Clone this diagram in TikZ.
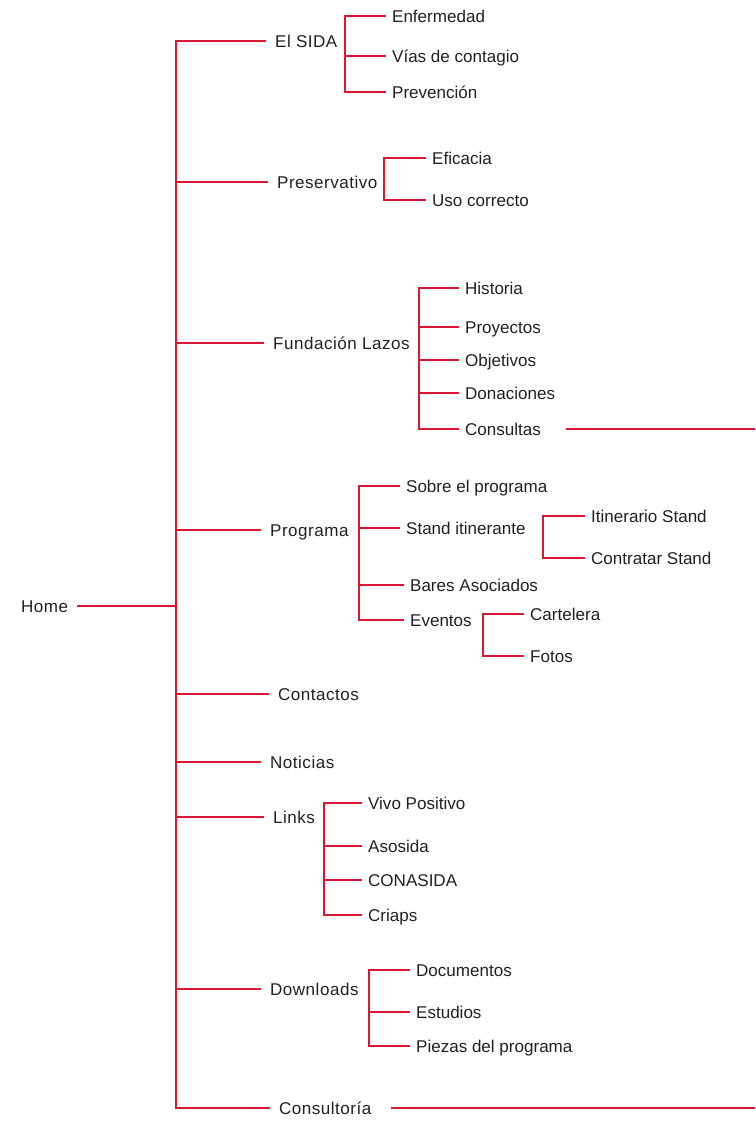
\documentclass[tikz,border=0pt]{standalone}
\usepackage{fontspec}
\setmainfont{Liberation Sans}
\newfontfamily\spacedfont[LetterSpace=3]{Liberation Sans}
\usepackage{tikz}
\definecolor{mapred}{RGB}{218,24,52}
\definecolor{maptext}{RGB}{35,31,32}
\tikzset{
  mainitem/.style={anchor=west, inner xsep=5pt, inner ysep=1pt,
    text height=1.6ex, text depth=.3ex, text=maptext,
    font=\spacedfont\fontsize{9.7}{11}\selectfont},
  subitem/.style={anchor=west, inner xsep=3.3pt, inner ysep=1pt,
    text height=1.6ex, text depth=.3ex, text=maptext,
    font=\fontsize{9.7}{11}\selectfont},
  link/.style={draw=mapred, line width=0.75pt}
}
\begin{document}
\begin{tikzpicture}[x=0.02cm, y=-0.02cm]
  \useasboundingbox (0,0) rectangle (755,1142);
  \coordinate (trunk) at (176,0);
  \coordinate (rim) at (755,0);

  % Root
  \node[mainitem] (home) at (12,606) {Home};

  % Level 1
  \node[mainitem] (sida) at (266,41) {El SIDA};
  \node[mainitem] (pres) at (268,182) {Preservativo};
  \node[mainitem] (fund) at (264,343) {Fundación Lazos};
  \node[mainitem] (prog) at (261,530) {Programa};
  \node[mainitem] (cont) at (269,694) {Contactos};
  \node[mainitem] (noti) at (261,762) {Noticias};
  \node[mainitem] (links) at (264,817) {Links};
  \node[mainitem] (down) at (261,989) {Downloads};
  \node[mainitem] (cons) at (270,1108) {Consultoría};
  \draw[link] (sida.west) -- (trunk |- sida) -- (trunk |- cons) -- (cons.west);
  \draw[link] (home.east) -- (trunk |- home);
  \foreach \n in {pres,fund,prog,cont,noti,links,down}
    \draw[link] (trunk |- \n) -- (\n.west);
  \draw[link] ([xshift=6pt]cons.east) -- (rim |- cons);

  % El SIDA
  \coordinate (sida-bar) at (345,0);
  \node[subitem] (enf) at (386,16) {Enfermedad};
  \node[subitem] (vias) at (386,56) {Vías de contagio};
  \node[subitem] (prev) at (386,92) {Prevención};
  \draw[link] (enf.west) -- (sida-bar |- enf) -- (sida-bar |- prev) -- (prev.west);
  \draw[link] (sida-bar |- vias) -- (vias.west);

  % Preservativo
  \coordinate (pres-bar) at (384,0);
  \node[subitem] (efic) at (426,158) {Eficacia};
  \node[subitem] (uso) at (426,200) {Uso correcto};
  \draw[link] (efic.west) -- (pres-bar |- efic) -- (pres-bar |- uso) -- (uso.west);

  % Fundacion Lazos
  \coordinate (fund-bar) at (419,0);
  \node[subitem] (hist) at (459,288) {Historia};
  \node[subitem] (proy) at (459,327) {Proyectos};
  \node[subitem] (obj) at (459,360) {Objetivos};
  \node[subitem] (don) at (459,393) {Donaciones};
  \node[subitem] (consu) at (459,429) {Consultas};
  \draw[link] (hist.west) -- (fund-bar |- hist) -- (fund-bar |- consu) -- (consu.west);
  \foreach \n in {proy,obj,don}
    \draw[link] (fund-bar |- \n) -- (\n.west);
  \draw[link] ([xshift=11pt]consu.east) -- (rim |- consu);

  % Programa
  \coordinate (prog-bar) at (359,0);
  \node[subitem] (sobre) at (400,486) {Sobre el programa};
  \node[subitem] (stand) at (400,528) {Stand itinerante};
  \node[subitem] (bares) at (404,585) {Bares Asociados};
  \node[subitem] (even) at (404,620) {Eventos};
  \draw[link] (sobre.west) -- (prog-bar |- sobre) -- (prog-bar |- even) -- (even.west);
  \foreach \n in {stand,bares}
    \draw[link] (prog-bar |- \n) -- (\n.west);

  % Stand itinerante
  \coordinate (stand-bar) at (543,0);
  \node[subitem] (itin) at (585,516) {Itinerario Stand};
  \node[subitem] (contr) at (585,558) {Contratar Stand};
  \draw[link] (itin.west) -- (stand-bar |- itin) -- (stand-bar |- contr) -- (contr.west);

  % Eventos
  \coordinate (even-bar) at (483,0);
  \node[subitem] (cart) at (524,614) {Cartelera};
  \node[subitem] (fotos) at (524,656) {Fotos};
  \draw[link] (cart.west) -- (even-bar |- cart) -- (even-bar |- fotos) -- (fotos.west);

  % Links
  \coordinate (links-bar) at (324,0);
  \node[subitem] (vivo) at (362,803) {Vivo Positivo};
  \node[subitem] (asos) at (362,846) {Asosida};
  \node[subitem] (conas) at (362,880) {CONASIDA};
  \node[subitem] (criaps) at (362,915) {Criaps};
  \draw[link] (vivo.west) -- (links-bar |- vivo) -- (links-bar |- criaps) -- (criaps.west);
  \foreach \n in {asos,conas}
    \draw[link] (links-bar |- \n) -- (\n.west);

  % Downloads
  \coordinate (down-bar) at (369,0);
  \node[subitem] (docs) at (410,970) {Documentos};
  \node[subitem] (estu) at (410,1012) {Estudios};
  \node[subitem] (piezas) at (410,1046) {Piezas del programa};
  \draw[link] (docs.west) -- (down-bar |- docs) -- (down-bar |- piezas) -- (piezas.west);
  \draw[link] (down-bar |- estu) -- (estu.west);
\end{tikzpicture}
\end{document}
